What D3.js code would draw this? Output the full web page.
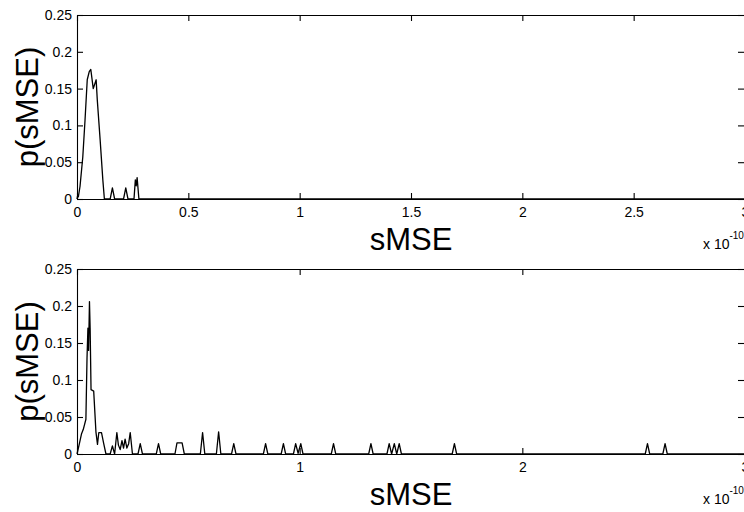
<!DOCTYPE html>
<html>
<head>
<meta charset="utf-8">
<script src="https://cdn.jsdelivr.net/npm/d3@7"></script>
<style>
  body { margin: 0; background: #fff; }
  text { font-family: "Liberation Sans", Arial, sans-serif; fill: #000; }
</style>
</head>
<body>
<div id="plot"></div>
<script>
// histogram of sMSE, x in units of 1e-10

const topX = [0, 0.003, 0.006, 0.0135, 0.026, 0.036, 0.046, 0.055, 0.062, 0.073, 0.086, 0.091, 0.104, 0.116, 0.123,
  0.149, 0.159, 0.169, 0.209, 0.219, 0.229, 0.256, 0.262, 0.266, 0.270, 0.278, 3];
const topP = [0, 0.005, 0.003, 0.017, 0.057, 0.107, 0.162, 0.173, 0.176, 0.150, 0.162, 0.135, 0.08, 0.026, 0,
  0, 0.015, 0, 0, 0.015, 0, 0, 0.026, 0.018, 0.029, 0, 0];

const bottomX = [0, 0.01, 0.02, 0.028, 0.04, 0.045, 0.049, 0.052, 0.056, 0.059, 0.063, 0.075, 0.085, 0.092, 0.098, 0.11, 0.12, 0.13,
  0.149, 0.159, 0.169, 0.179, 0.186, 0.194, 0.202, 0.209, 0.216, 0.224, 0.232, 0.239, 0.249,
  0.274, 0.284, 0.294, 0.356, 0.366, 0.376, 0.44, 0.449, 0.472, 0.482,
  0.554, 0.564, 0.574, 0.626, 0.636, 0.646, 0.694, 0.704, 0.714,
  0.837, 0.847, 0.857, 0.917, 0.927, 0.937, 0.972, 0.982, 0.993, 1.005, 1.015,
  1.142, 1.152, 1.162, 1.31, 1.32, 1.33,
  1.392, 1.402, 1.413, 1.425, 1.436, 1.447, 1.457,
  1.685, 1.695, 1.705, 2.552, 2.562, 2.572, 2.631, 2.641, 2.651, 3];
const bottomP = [0, 0.013, 0.027, 0.033, 0.047, 0.13, 0.17, 0.14, 0.206, 0.17, 0.087, 0.085, 0.03, 0.013, 0.029, 0.029, 0.014, 0,
  0, 0.011, 0, 0.029, 0.012, 0.006, 0.018, 0.008, 0.02, 0.008, 0.014, 0.029, 0,
  0, 0.014, 0, 0, 0.014, 0, 0, 0.015, 0.015, 0,
  0, 0.029, 0, 0, 0.03, 0, 0, 0.014, 0,
  0, 0.014, 0, 0, 0.014, 0, 0, 0.014, 0.001, 0.014, 0,
  0, 0.014, 0, 0, 0.014, 0,
  0, 0.014, 0, 0.014, 0, 0.014, 0,
  0, 0.014, 0, 0, 0.014, 0, 0, 0.014, 0, 0];

const yTicks = [0, 0.05, 0.1, 0.15, 0.2, 0.25];
const topXTicks = [0, 0.5, 1, 1.5, 2, 2.5, 3];
const bottomXTicks = [0, 1, 2, 3];

const w = 744;
const h = 512;

const svg = d3.select("div#plot")
    .append("svg")
    .attr("width", w)
    .attr("height", h);

function panel(xs, ps, xTicks, top, bottom) {
  const left = 77, right = 745;

  const xScale = d3.scaleLinear()
      .domain([0, 3])
      .range([left, right]);

  const yScale = d3.scaleLinear()
      .domain([0, 0.25])
      .range([bottom, top]);

  const g = svg.append("g");

  const line = d3.line()
      .x(d => xScale(d[0]))
      .y(d => yScale(d[1]));

  g.append("path")
      .datum(xs.map((x, i) => [x, ps[i]]))
      .attr("d", line)
      .attr("fill", "none")
      .attr("stroke", "#000")
      .attr("stroke-width", 1.3)
      .attr("stroke-linejoin", "round");

  // bottom axis with labels
  g.append("g")
      .attr("transform", `translate(0, ${bottom})`)
      .call(d3.axisBottom(xScale).tickValues(xTicks).tickFormat(d => d)
        .tickSizeInner(-6).tickSizeOuter(0).tickPadding(8));

  // top axis, ticks only
  g.append("g")
      .attr("transform", `translate(0, ${top})`)
      .call(d3.axisTop(xScale).tickValues(xTicks).tickFormat("")
        .tickSizeInner(-6).tickSizeOuter(0));

  g.append("g")
      .attr("transform", `translate(${left}, 0)`)
      .call(d3.axisLeft(yScale).tickValues(yTicks).tickFormat(d => d)
        .tickSizeInner(-6).tickSizeOuter(0).tickPadding(5));

  g.append("g")
      .attr("transform", `translate(${right}, 0)`)
      .call(d3.axisRight(yScale).tickValues(yTicks).tickFormat("")
        .tickSizeInner(-7).tickSizeOuter(0));

  g.selectAll(".tick text")
      .style("font-size", "14px")
      .style("font-family", "'Liberation Sans', Arial, sans-serif");
  g.selectAll(".domain, .tick line")
      .attr("stroke", "#000")
      .attr("stroke-width", 1.1);

  g.append("text")
      .attr("transform", `translate(38, ${(top + bottom) / 2}) rotate(-90)`)
      .attr("text-anchor", "middle")
      .style("font-size", "31px")
      .text("p(sMSE)");

  g.append("text")
      .attr("x", (left + right) / 2)
      .attr("y", bottom + 51)
      .attr("text-anchor", "middle")
      .style("font-size", "31px")
      .text("sMSE");

  const mult = g.append("text")
      .attr("x", 703)
      .attr("y", bottom + 50)
      .style("font-size", "14px");
  mult.append("tspan").text("x 10");
  mult.append("tspan")
      .attr("dy", -10)
      .style("font-size", "10px")
      .text("-10");
}

panel(topX, topP, topXTicks, 15, 199);
panel(bottomX, bottomP, bottomXTicks, 269, 454);
</script>
</body>
</html>
